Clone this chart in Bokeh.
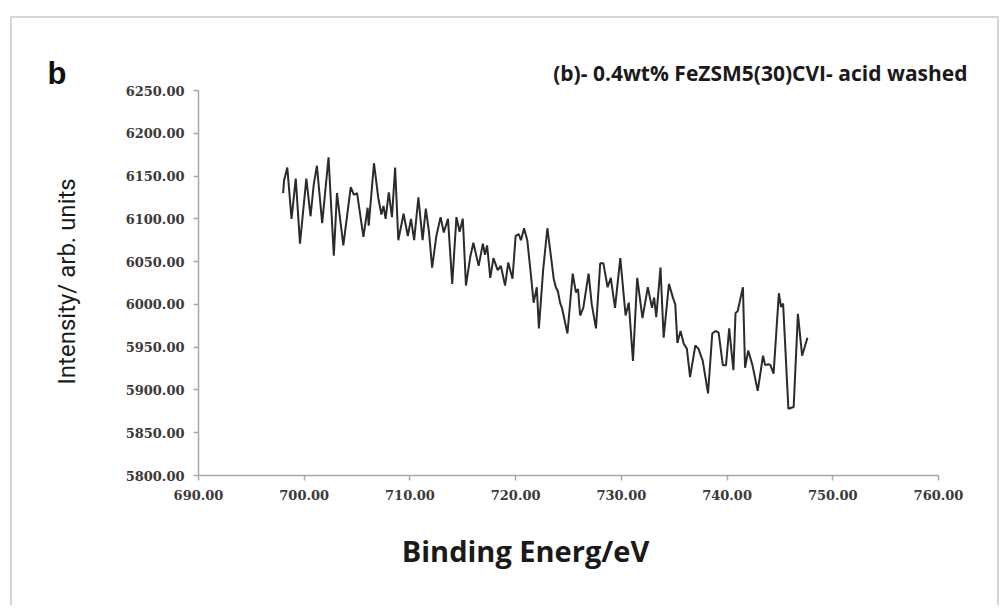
import math
from bokeh.plotting import figure
from bokeh.models import LinearAxis, NumeralTickFormatter, FixedTicker, Range1d
from bokeh.core.properties import value
from bokeh.embed import file_html
from bokeh.resources import INLINE

# ---- data ----
energy = [698.0, 698.1, 698.4, 698.8, 699.2, 699.6, 700.2, 700.6, 700.9, 701.2,
          701.7, 702.3, 702.8, 703.1, 703.7, 704.4, 704.7, 705.0, 705.6, 706.0,
          706.1, 706.6, 707.0, 707.3, 707.5, 707.7, 708.0, 708.3, 708.6, 708.9,
          709.4, 709.8, 710.1, 710.4, 710.8, 711.2, 711.5, 711.8, 712.1, 712.5,
          712.9, 713.2, 713.6, 714.0, 714.4, 714.7, 715.0, 715.3, 715.7, 716.0,
          716.5, 716.9, 717.1, 717.3, 717.6, 717.9, 718.3, 718.6, 719.0, 719.3,
          719.7, 720.0, 720.3, 720.5, 720.8, 721.1, 721.4, 721.7, 722.0, 722.2,
          722.6, 723.0, 723.3, 723.6, 723.8, 724.0, 724.2, 724.4, 724.9, 725.4,
          725.7, 725.9, 726.1, 726.4, 726.9, 727.2, 727.6, 728.0, 728.3, 728.7,
          729.0, 729.4, 729.9, 730.4, 730.7, 731.1, 731.5, 732.0, 732.5, 732.9,
          733.1, 733.3, 733.7, 734.0, 734.5, 734.9, 735.1, 735.3, 735.6, 735.9,
          736.2, 736.5, 737.0, 737.3, 737.7, 738.2, 738.6, 738.9, 739.2, 739.6,
          739.9, 740.2, 740.6, 740.8, 741.0, 741.5, 741.7, 742.0, 742.4, 742.9,
          743.4, 743.6, 743.9, 744.1, 744.4, 744.9, 745.1, 745.3, 745.8, 746.3,
          746.7, 747.1, 747.6]
intensity = [6130, 6145, 6160, 6100, 6147, 6071, 6147, 6103, 6140, 6162,
             6095, 6172, 6057, 6130, 6069, 6137, 6128, 6130, 6079, 6113,
             6092, 6165, 6125, 6105, 6115, 6100, 6131, 6102, 6160, 6075,
             6106, 6080, 6100, 6075, 6125, 6075, 6112, 6085, 6043, 6080,
             6102, 6084, 6100, 6024, 6102, 6085, 6100, 6022, 6055, 6072,
             6045, 6071, 6058, 6069, 6031, 6054, 6040, 6045, 6022, 6049,
             6030, 6080, 6082, 6075, 6089, 6075, 6040, 6002, 6020, 5972,
             6040, 6089, 6060, 6030, 6020, 6015, 6002, 5995, 5966, 6036,
             6014, 6018, 5987, 5996, 6036, 6000, 5972, 6048, 6048, 6020,
             6031, 5996, 6054, 5987, 6002, 5934, 6031, 5984, 6020, 5996,
             6008, 5985, 6043, 5961, 6024, 6007, 6000, 5955, 5969, 5954,
             5948, 5915, 5952, 5948, 5934, 5896, 5966, 5969, 5967, 5929,
             5929, 5972, 5923, 5990, 5992, 6020, 5926, 5946, 5929, 5899,
             5940, 5929, 5930, 5929, 5919, 6013, 5997, 6001, 5878, 5880,
             5989, 5940, 5961]

x_ticks = [690, 700, 710, 720, 730, 740, 750, 760]
y_ticks = [5800, 5850, 5900, 5950, 6000, 6050, 6100, 6150, 6200, 6250]

panel_letter = "b"
chart_title = "(b)- 0.4wt% FeZSM5(30)CVI- acid washed"
x_title = "Binding Energ/eV"
y_title = "Intensity/ arb. units"

# ---- layout geometry (canvas pixels) ----
CANVAS_W, CANVAS_H = 989, 589          # drawing area inside the light frame
AX_L, AX_R, AX_T, AX_B = 186, 926, 72, 457   # where the axes sit on the canvas

x0, x1 = x_ticks[0], x_ticks[-1]
y0, y1 = y_ticks[0], y_ticks[-1]
kx = (AX_R - AX_L) / (x1 - x0)
ky = (AX_B - AX_T) / (y1 - y0)


def px_to_x(px):
    return x0 + (px - AX_L) / kx


def py_to_y(py):
    return y1 - (py - AX_T) / ky


p = figure(width=CANVAS_W, height=CANVAS_H, output_backend="svg", toolbar_location=None,
           x_range=Range1d(px_to_x(0), px_to_x(CANVAS_W)),
           y_range=Range1d(py_to_y(CANVAS_H), py_to_y(0)),
           x_axis_location=None, y_axis_location=None,
           min_border=0,
           styles={"margin-left": "10px", "margin-top": "16px",
                   "border-left": "2px solid #d6d6d6",
                   "border-top": "2px solid #d6d6d6",
                   "border-right": "2px solid #d6d6d6"})
p.title.visible = False
p.outline_line_color = None
p.background_fill_color = "white"
p.border_fill_color = "white"
p.xgrid.visible = False
p.ygrid.visible = False
for g in p.grid:
    g.visible = False

p.line(energy, intensity, line_color="#2b2b2b", line_width=2)

xaxis = LinearAxis(fixed_location=y0, bounds=(x0, x1), ticker=FixedTicker(ticks=x_ticks))
yaxis = LinearAxis(fixed_location=x0, bounds=(y0, y1), ticker=FixedTicker(ticks=y_ticks))
for ax in (xaxis, yaxis):
    ax.axis_line_color = "#a8a8a8"
    ax.axis_line_width = 1.5
    ax.major_tick_line_color = "#a8a8a8"
    ax.major_tick_line_width = 1.5
    ax.major_tick_out = 5
    ax.major_tick_in = 0
    ax.minor_tick_line_color = None
    ax.major_label_text_font = "DejaVu Serif"
    ax.major_label_text_font_style = "bold"
    ax.major_label_text_font_size = "13px"
    ax.major_label_text_color = "#3a3a3a"
    ax.formatter = NumeralTickFormatter(format="0.00")
    ax.major_label_standoff = 9
p.add_layout(xaxis, "below")
p.add_layout(yaxis, "left")

# panel letter
p.text(x=[px_to_x(35)], y=[py_to_y(55)], text=[panel_letter],
       text_font=value("Liberation Sans"), text_font_style="bold",
       text_font_size="31px", text_color="#111111",
       text_baseline="alphabetic", text_align="left")
# chart title
p.text(x=[px_to_x(955)], y=[py_to_y(54)], text=[chart_title],
       text_font=value("Open Sans"), text_font_style="bold",
       text_font_size="21px", text_color="#1a1a1a",
       text_baseline="alphabetic", text_align="right")
# x axis title
p.text(x=[px_to_x(513)], y=[py_to_y(532)], text=[x_title],
       text_font=value("Open Sans"), text_font_style="bold",
       text_font_size="29px", text_color="#1a1a1a",
       text_baseline="middle", text_align="center")
# y axis title
p.text(x=[px_to_x(54)], y=[py_to_y(263)], text=[y_title], angle=math.pi / 2,
       text_font=value("Roboto"), text_font_style="normal",
       text_font_size="24px", text_color="#1a1a1a",
       text_baseline="middle", text_align="center")

open("out.html", "w").write(file_html(p, INLINE))
